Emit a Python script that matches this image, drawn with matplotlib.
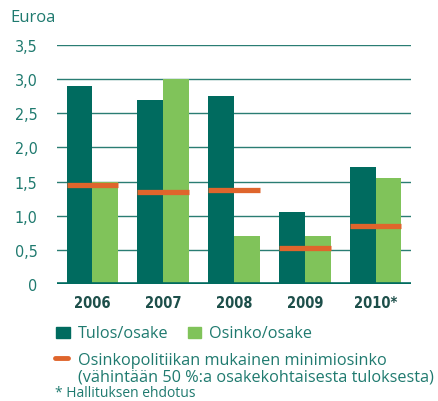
import numpy as np
import matplotlib
matplotlib.use("Agg")
import matplotlib.pyplot as plt
from matplotlib import font_manager
from matplotlib.patches import Rectangle
from matplotlib.lines import Line2D

# Tulos ja osinko osaketta kohden, euroa
vuodet = ["2006", "2007", "2008", "2009", "2010*"]
tulos_osake = [2.90, 2.70, 2.75, 1.06, 1.71]
osinko_osake = [1.50, 3.00, 0.70, 0.70, 1.55]
minimiosinko = [1.45, 1.35, 1.375, 0.53, 0.855]
y_tikit = [0, 0.5, 1.0, 1.5, 2.0, 2.5, 3.0, 3.5]
y_tekstit = ["0", "0,5", "1,0", "1,5", "2,0", "2,5", "3,0", "3,5"]

tumma = "#006b5f"
vaalea = "#80c35a"
oranssi = "#df652c"
teksti = "#1f7a6f"

kapeat = sorted({f.name for f in font_manager.fontManager.ttflist
                 if "Narrow" in f.name or "Condensed" in f.name})
print(kapeat)

fig = plt.figure(figsize=(4.38, 4.02), dpi=100)
ax = fig.add_axes([57 / 438, 1 - 285 / 402, 354 / 438, 239 / 402])

x = np.arange(len(vuodet))
lev = 0.363

for y in y_tikit[1:]:
    ax.axhline(y, color="#2a7d73", lw=1.0, zorder=1)

ax.bar(x - lev / 2, tulos_osake, width=lev, color=tumma, zorder=2)
ax.bar(x + lev / 2, osinko_osake, width=lev, color=vaalea, zorder=2)
ax.hlines(minimiosinko, x - lev, x + lev, color=oranssi, lw=3.8, zorder=3)
ax.axhline(0, color=tumma, lw=2.6, zorder=4)

ax.set_xlim(-0.5, 4.5)
ax.set_ylim(0, 3.5)
ax.set_yticks(y_tikit, y_tekstit)
ax.set_xticks(x, vuodet)
ax.tick_params(axis="y", length=0, pad=14, labelsize=11.5, labelcolor=teksti)
ax.tick_params(axis="x", length=0, pad=8, labelsize=10.5, labelcolor="#1d4f4a")
for lab in ax.get_yticklabels():
    lab.set_fontstretch("condensed")
for lab in ax.get_xticklabels():
    lab.set_fontweight("bold")
    lab.set_fontstretch("condensed")
for s in ax.spines.values():
    s.set_visible(False)
ax.patch.set_alpha(0)

fig.text(10 / 438, 1 - 18 / 402, "Euroa", fontsize=12, color=teksti,
         family=["Open Sans", "DejaVu Sans"], va="center", ha="left")

# Selite
fig.patches.append(Rectangle((56 / 438, 1 - 339 / 402), 14 / 438, 11 / 402,
                             transform=fig.transFigure, color=tumma))
fig.patches.append(Rectangle((188 / 438, 1 - 339 / 402), 13 / 438, 11 / 402,
                             transform=fig.transFigure, color=vaalea))
fig.lines.append(Line2D([55 / 438, 68 / 438], [1 - 359 / 402, 1 - 359 / 402],
                        transform=fig.transFigure, color=oranssi, lw=3.5,
                        solid_capstyle="round"))
selite = dict(fontsize=11.7, color=teksti, family=["Open Sans", "DejaVu Sans"],
              va="center", ha="left")
fig.text(78 / 438, 1 - 334 / 402, "Tulos/osake", **selite)
fig.text(209 / 438, 1 - 334 / 402, "Osinko/osake", **selite)
fig.text(78 / 438, 1 - 361 / 402, "Osinkopolitiikan mukainen minimiosinko", **selite)
fig.text(78 / 438, 1 - 378 / 402, "(vähintään 50 %:a osakekohtaisesta tuloksesta)", **selite)
fig.text(55 / 438, 1 / 402, "* Hallituksen ehdotus", fontsize=10, color=teksti,
         family=["Open Sans", "DejaVu Sans"], va="bottom", ha="left")

fig.savefig("out.png", dpi=100)
